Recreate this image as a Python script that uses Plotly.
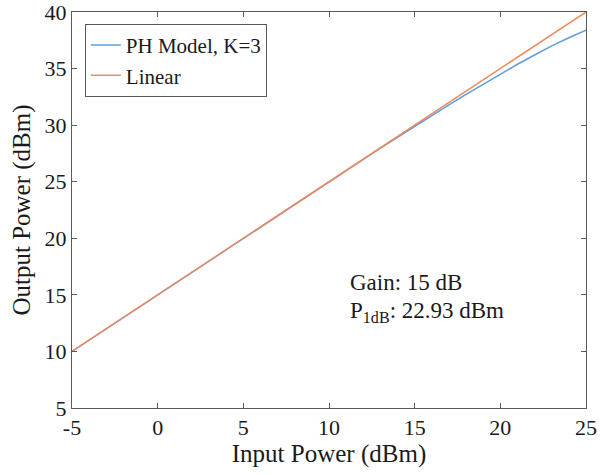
import plotly.graph_objects as go

input_power = [-5, -4, -3, -2, -1, 0, 1, 2, 3, 4, 5, 6, 7, 8, 9, 10,
               11, 12, 13, 14, 15, 16, 17, 18, 19, 20, 21, 22, 23, 24, 25]
ph_model_out = [10, 11, 12, 13, 14, 15, 16, 17, 18, 19, 20, 21, 22, 23, 24, 25.0,
                25.99, 26.98, 27.96, 28.93, 29.9, 30.85, 31.8, 32.72, 33.63, 34.52,
                35.38, 36.2, 37.0, 37.72, 38.4]
linear_out = [10, 11, 12, 13, 14, 15, 16, 17, 18, 19, 20, 21, 22, 23, 24, 25,
              26, 27, 28, 29, 30, 31, 32, 33, 34, 35, 36, 37, 38, 39, 40]
x_ticks = [-5, 0, 5, 10, 15, 20, 25]
x_tick_labels = ["-5", "0", "5", "10", "15", "20", "25"]
y_ticks = [5, 10, 15, 20, 25, 30, 35, 40]
y_tick_labels = ["5", "10", "15", "20", "25", "30", "35", "40"]

FONT = "Liberation Serif"
TXT = "#1a1a1a"
fig = go.Figure()
fig.add_trace(go.Scatter(x=input_power, y=ph_model_out, mode="lines",
                         name="PH Model, K=3", line=dict(color="#5c9fdc", width=1.5)))
fig.add_trace(go.Scatter(x=input_power, y=linear_out, mode="lines",
                         name="Linear", line=dict(color="#ef8a5e", width=1.5)))

fig.add_annotation(x=11.1, y=16.1, xref="x", yref="y", text="Gain: 15 dB",
                   showarrow=False, xanchor="left", yanchor="middle",
                   font=dict(family=FONT, size=23, color=TXT))
fig.add_annotation(x=11.1, y=13.5, xref="x", yref="y",
                   text="P<sub>1dB</sub>: 22.93 dBm",
                   showarrow=False, xanchor="left", yanchor="middle",
                   font=dict(family=FONT, size=23, color=TXT))

axis_common = dict(showline=True, linecolor="#5a5a5a", linewidth=1, mirror="ticks",
                   ticks="inside", ticklen=5, tickcolor="#5a5a5a", showgrid=False,
                   zeroline=False, automargin=False, ticklabeloverflow="allow",
                   tickfont=dict(family=FONT, size=22, color=TXT))
fig.update_xaxes(range=[-5, 25], tickvals=x_ticks, ticktext=x_tick_labels,
                 title=dict(text="Input Power (dBm)", font=dict(family=FONT, size=25, color=TXT), standoff=2),
                 **axis_common)
fig.update_yaxes(range=[5, 40], tickvals=y_ticks, ticktext=y_tick_labels,
                 title=dict(text="Output Power (dBm)", font=dict(family=FONT, size=25, color=TXT), standoff=6),
                 **axis_common)

fig.update_layout(
    width=604, height=475,
    margin=dict(l=72, r=18, t=12, b=67),
    paper_bgcolor="white", plot_bgcolor="white",
    showlegend=True,
    legend=dict(x=0.025, y=0.97, xanchor="left", yanchor="top",
                bgcolor="white", bordercolor="#5a5a5a", borderwidth=1,
                font=dict(family=FONT, size=21, color=TXT),
                tracegroupgap=0, itemwidth=30),
)
fig.write_html("out.html", config={"displayModeBar": False},
               post_script="document.body.style.margin='0';")
